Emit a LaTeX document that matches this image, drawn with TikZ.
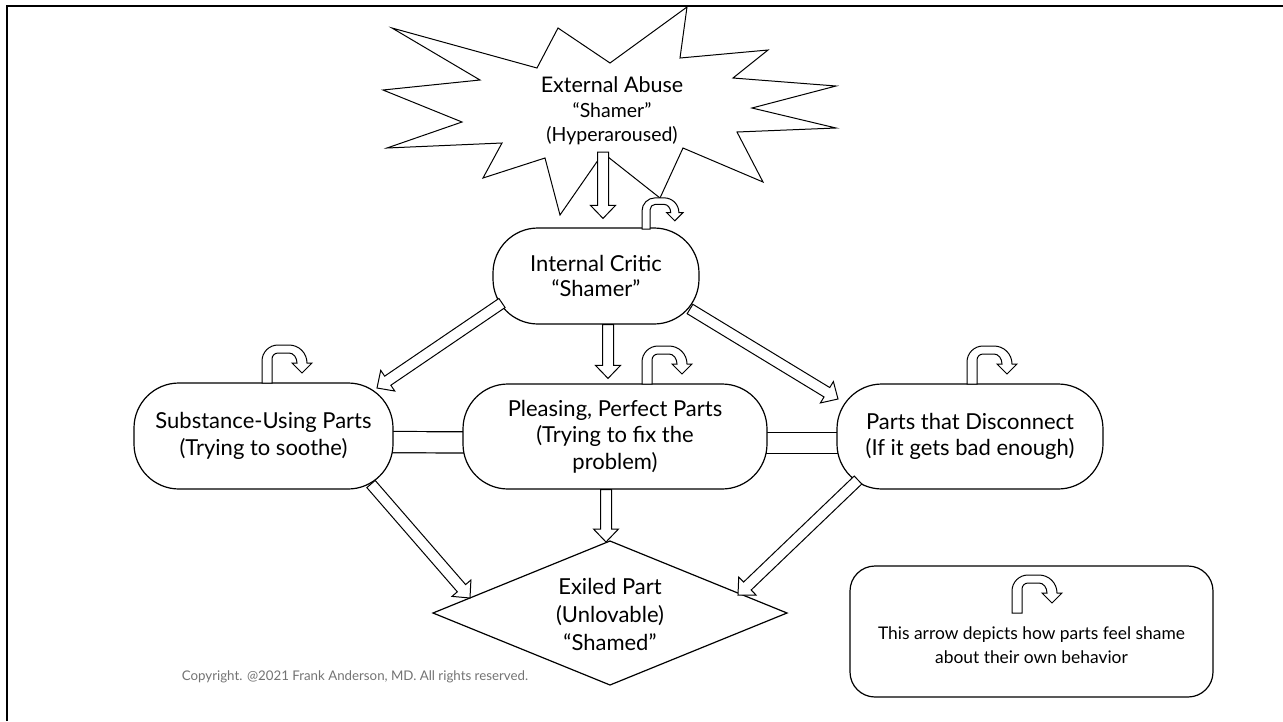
\documentclass[tikz,border=0pt]{standalone}
\usepackage{fontspec}
\setmainfont{Lato}
\usetikzlibrary{calc,backgrounds}
\tikzset{
  x=1pt, y=-1pt,
  box/.style={draw, line width=1.2pt, fill=white, rounded corners=45pt, inner sep=0pt, align=center, font=\fontsize{22}{26.5}\selectfont},
  txt/.style={inner sep=0pt, align=center},
  barr/.style={draw, line width=1pt, fill=white, line join=miter},
  uarr/.style={draw, line width=1pt, fill=white},
  bar/.style={double=white, double distance=20pt, line width=1.2pt},
  uturn/.pic={\begin{scope}[yscale=-1]
    \path[uarr] (0,0) -- (0,22) arc[start angle=180,end angle=90,radius=16] -- (27,38)
      arc[start angle=90,end angle=0,radius=18] -- (50,20) -- (40,10) -- (30,20) -- (35,20)
      arc[start angle=0,end angle=90,x radius=8,y radius=10] -- (16,30)
      arc[start angle=90,end angle=180,radius=6] -- (10,0) -- cycle;
  \end{scope}}
}
\newcommand\blockarrow[2]{%
  \coordinate (ba-c) at ($(#2)!13pt!(#1)$);
  \path[barr] ($(#1)!5.5pt!90:(#2)$) -- ($(ba-c)!5.5pt!-90:(#1)$) -- ($(ba-c)!12.5pt!-90:(#1)$)
    -- (#2) -- ($(ba-c)!12.5pt!90:(#1)$) -- ($(ba-c)!5.5pt!90:(#1)$) -- ($(#1)!5.5pt!-90:(#2)$) -- cycle;}
\begin{document}
\begin{tikzpicture}
\useasboundingbox (0,0) rectangle (1283,721);
% frame
\draw[line width=2.5pt] (7,721) -- (7,6) -- (1283,6);
% star
\draw[line width=1pt, fill=white, line join=miter]
  (392,28) -- (537,68) -- (558,28) -- (610,63) -- (687,7) -- (680,58) -- (768,50) -- (733,78)
  -- (836,86) -- (752,108) -- (836,128) -- (737,132) -- (763,182) -- (683,148) -- (660,198)
  -- (603,153) -- (560,215) -- (545,158) -- (483,178) -- (502,143) -- (387,148) -- (462,122)
  -- (383,90) -- (480,80) -- cycle;
\node[txt, font=\fontsize{19.5}{24.5}\selectfont] (ext) at (612,111) {{\fontsize{21.5}{24.5}\selectfont External Abuse}\\“Shamer”\\(Hyperaroused)};
% boxes
\node[box, minimum width=206pt, minimum height=96pt, font=\fontsize{22}{25}\selectfont] (ic) at (596,276) {Internal Critic\\“Shamer”};
\node[box, minimum width=259pt, minimum height=106pt] (sub) at (263.5,436) {Substance-Using Parts\\(Trying to soothe)};
\node[box, minimum width=304pt, minimum height=105pt] (ple) at (615,436.5) {Pleasing, Perfect Parts\\(Trying to fix the\\problem)};
\node[box, minimum width=266pt, minimum height=105pt] (dis) at (970,436.5) {Parts that Disconnect\\(If it gets bad enough)};
% exiled diamond
\node[txt, font=\fontsize{22}{28}\selectfont] (exl) at (610,614) {Exiled Part\\(Unlovable)\\“Shamed”};
\draw[line width=1.2pt, line join=miter] ($(exl.center)+(-177,-1)$) -- ($(exl.center)+(0,-73)$) -- ($(exl.center)+(177,-1)$) -- ($(exl.center)+(0,71)$) -- cycle;
% bars between boxes
\begin{pgfonlayer}{background}
\draw[bar] ($(sub.east)+(-12,6)$) -- ($(ple.west)+(12,6)$);
\draw[bar] ($(ple.east)+(-12,6.5)$) -- ($(dis.west)+(12,6.5)$);
\end{pgfonlayer}
% arrow coordinates
\coordinate (ext-o) at ($(ext.center)+(-9,41)$);
\coordinate (ic-i) at ($(ic.north)+(7,-9)$);
\coordinate (ic-l) at ($(ic.center)+(-94,27)$);
\coordinate (ic-d) at ($(ic.south)+(12,0)$);
\coordinate (ic-r) at ($(ic.center)+(94,33)$);
\coordinate (sub-i) at ($(sub.center)+(113.5,-48)$);
\coordinate (sub-o) at ($(sub.center)+(107.5,48)$);
\coordinate (ple-i) at ($(ple.north)+(-7,-5)$);
\coordinate (ple-o) at ($(ple.south)+(-9,0)$);
\coordinate (dis-i) at ($(dis.center)+(-132,-37.5)$);
\coordinate (dis-o) at ($(dis.center)+(-112,43.5)$);
\coordinate (exl-l) at ($(exl.center)+(-140,-16)$);
\coordinate (exl-t) at ($(exl.center)+(-4,-72)$);
\coordinate (exl-r) at ($(exl.center)+(128,-19)$);
\blockarrow{ext-o}{ic-i}
\blockarrow{ic-l}{sub-i}
\blockarrow{ic-d}{ple-i}
\blockarrow{ic-r}{dis-i}
\blockarrow{sub-o}{exl-l}
\blockarrow{ple-o}{exl-t}
\blockarrow{dis-o}{exl-r}
% u-turn arrows
\pic[scale=0.82] at (642,229) {uturn};
\pic at (262,383) {uturn};
\pic at (642,384) {uturn};
\pic at (967,384) {uturn};
% legend
\node[draw, line width=1.2pt, rounded corners=25pt, minimum width=363pt, minimum height=131pt] (leg) at (1031.5,631.5) {};
\pic at (1012,613) {uturn};
\node[txt, font=\fontsize{17.4}{24}\selectfont] (legt) at ($(leg.center)+(0,14)$) {This arrow depicts how parts feel shame\\about their own behavior};
% copyright
\node[txt, text=black!55, font=\fontsize{13.3}{15}\selectfont] (copy) at (355,677) {Copyright. @2021 Frank Anderson, MD. All rights reserved.};
\end{tikzpicture}
\end{document}
